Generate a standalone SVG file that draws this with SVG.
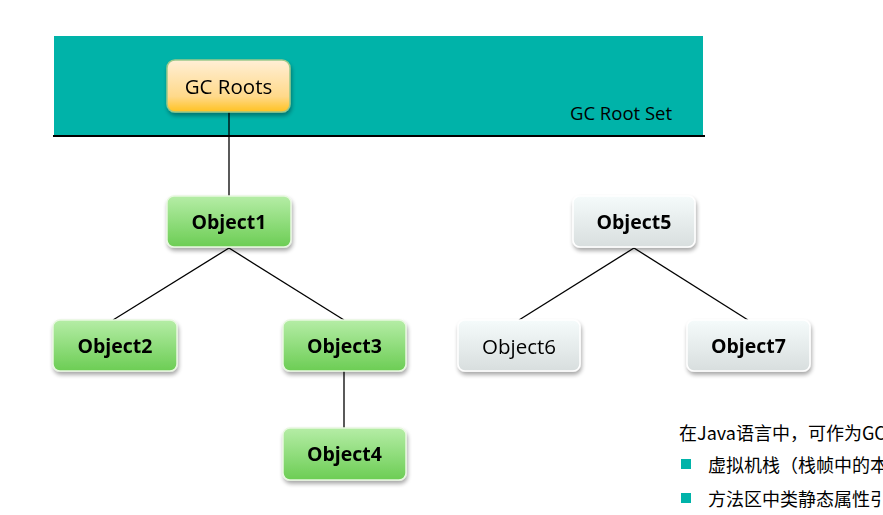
<svg xmlns="http://www.w3.org/2000/svg" width="883" height="515" viewBox="0 0 883 515">
<defs>
<linearGradient id="gOrange" x1="0" y1="0" x2="0" y2="1">
<stop offset="0" stop-color="#FFEFD6"/><stop offset="0.7" stop-color="#FFD98A"/><stop offset="1" stop-color="#FFC21F"/>
</linearGradient>
<linearGradient id="gGreen" x1="0" y1="0" x2="0" y2="1">
<stop offset="0" stop-color="#B5EDA6"/><stop offset="1" stop-color="#6CCD54"/>
</linearGradient>
<linearGradient id="gGray" x1="0" y1="0" x2="0" y2="1">
<stop offset="0" stop-color="#F5FBFB"/><stop offset="1" stop-color="#D8DEDE"/>
</linearGradient>
<filter id="sh" x="-20%" y="-20%" width="140%" height="160%">
<feGaussianBlur in="SourceAlpha" stdDeviation="2"/>
<feOffset dx="1" dy="3"/>
<feComponentTransfer><feFuncA type="linear" slope="0.35"/></feComponentTransfer>
<feMerge><feMergeNode/><feMergeNode in="SourceGraphic"/></feMerge>
</filter>
<style>
.lbl{font-family:"Open Sans","Noto Sans","Liberation Sans",sans-serif;font-size:20.5px;fill:#000;text-anchor:middle}
.b{font-weight:bold;font-size:19.5px}
.edge{stroke:#000;stroke-width:1.3;fill:none}
.cn{font-family:"Noto Sans CJK SC","Noto Sans",sans-serif;font-size:18px;fill:#000}
.green{fill:url(#gGreen);stroke:#E8F8E0;stroke-width:1.5}
.gray{fill:url(#gGray);stroke:#FFFFFF;stroke-width:1.5}
</style>
</defs>
<rect width="883" height="515" fill="#FFFFFF"/>
<g id="rootset">
<rect x="54" y="36" width="649" height="100" fill="#00B3A9"/>
<line x1="53" y1="136" x2="705" y2="136" stroke="#000" stroke-width="2.2"/>
<text x="621" y="120" class="lbl" style="font-size:18.5px">GC Root Set</text>
</g>
<g id="connectors">
<line class="edge" x1="229" y1="112" x2="229" y2="196"/>
<line class="edge" x1="229" y1="248" x2="113" y2="320"/>
<line class="edge" x1="229" y1="248" x2="344" y2="320"/>
<line class="edge" x1="344" y1="371" x2="344" y2="428"/>
<line class="edge" x1="634" y1="248" x2="519" y2="320"/>
<line class="edge" x1="634" y1="248" x2="748" y2="320"/>
</g>
<g id="gcroots" filter="url(#sh)">
<rect x="167" y="60" width="123" height="52" rx="8" fill="url(#gOrange)" stroke="#9BC98A" stroke-width="1.5"/>
<text x="228.5" y="94" class="lbl">GC Roots</text>
</g>
<g id="object1" filter="url(#sh)">
<rect x="167" y="196" width="124" height="51" rx="7" class="green"/>
<text x="229" y="229" class="lbl b">Object1</text>
</g>
<g id="object2" filter="url(#sh)">
<rect x="53" y="320" width="124" height="51" rx="7" class="green"/>
<text x="115" y="353" class="lbl b">Object2</text>
</g>
<g id="object3" filter="url(#sh)">
<rect x="283" y="320" width="123" height="51" rx="7" class="green"/>
<text x="344.5" y="353" class="lbl b">Object3</text>
</g>
<g id="object4" filter="url(#sh)">
<rect x="283" y="428" width="123" height="52" rx="7" class="green"/>
<text x="344.5" y="461" class="lbl b">Object4</text>
</g>
<g id="object5" filter="url(#sh)">
<rect x="573" y="196" width="122" height="51" rx="7" class="gray"/>
<text x="634" y="229" class="lbl b">Object5</text>
</g>
<g id="object6" filter="url(#sh)">
<rect x="458" y="320" width="122" height="51" rx="7" class="gray"/>
<text x="519" y="354" class="lbl">Object6</text>
</g>
<g id="object7" filter="url(#sh)">
<rect x="687" y="320" width="123" height="51" rx="7" class="gray"/>
<text x="748.5" y="353" class="lbl b">Object7</text>
</g>
<g id="notes">
<text x="679" y="440" class="cn">在Java语言中，可作为GC</text>
<rect x="681" y="459" width="10" height="10" fill="#00B3A9"/>
<text x="708" y="472" class="cn">虚拟机栈（栈帧中的本</text>
<rect x="681" y="493" width="10" height="10" fill="#00B3A9"/>
<text x="708" y="506" class="cn">方法区中类静态属性引</text>
</g>
</svg>
